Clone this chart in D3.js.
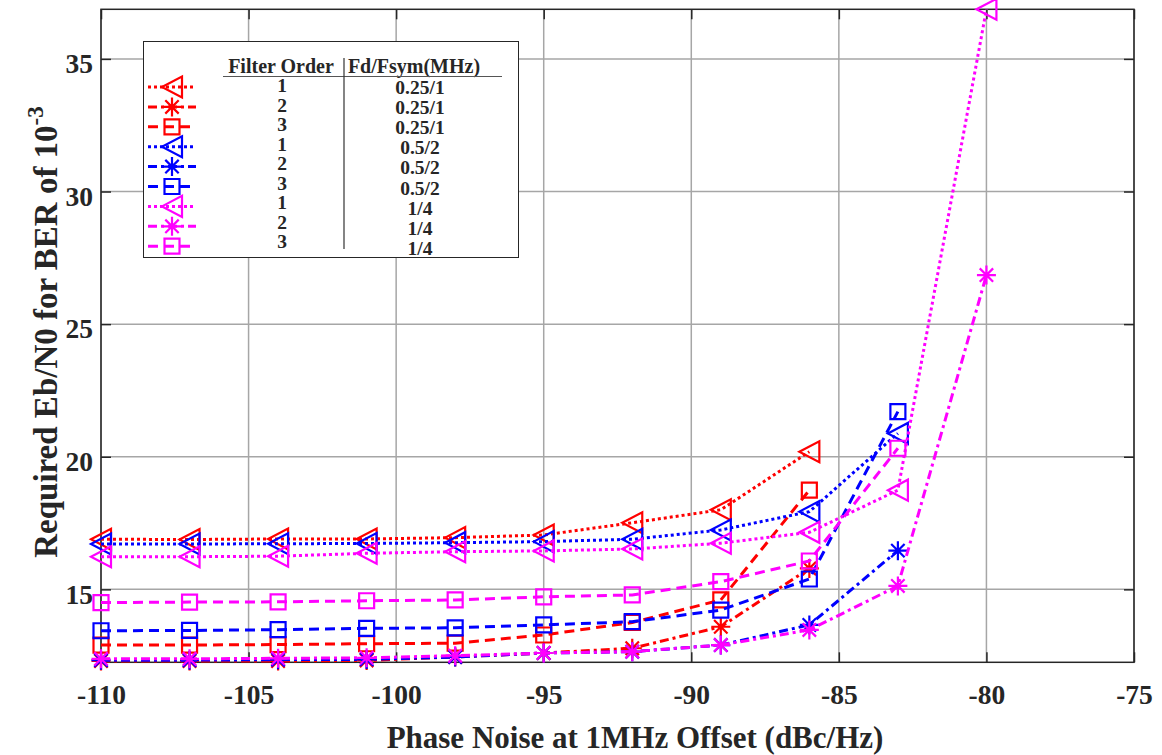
<!DOCTYPE html>
<html>
<head>
<meta charset="utf-8">
<script src="https://cdn.jsdelivr.net/npm/d3@7"></script>
<style>
  body { margin: 0; background: #fff; }
  text { font-family: 'Liberation Serif', 'Times New Roman', serif; font-weight: bold; fill: #262626; }
</style>
</head>
<body>
<script>
var width = 1162;
var height = 755;

var padding = { top: 9.3, right: 28, bottom: 92.7, left: 101 };

// phase noise offsets (dBc/Hz)
var phaseNoise = [-110, -107, -104, -101, -98, -95, -92, -89, -86, -83, -80];

// required Eb/N0, one array per curve
var red1 = [16.89, 16.88, 16.9, 16.9, 16.95, 17.05, 17.51, 18.0, 20.19];
var red2 = [12.3, 12.3, 12.3, 12.32, 12.45, 12.6, 12.78, 13.59, 15.79];
var red3 = [12.9, 12.9, 12.92, 12.95, 12.97, 13.28, 13.75, 14.6, 18.74];
var blue1 = [16.71, 16.71, 16.72, 16.73, 16.76, 16.8, 16.89, 17.24, 17.93, 20.88];
var blue2 = [12.33, 12.33, 12.35, 12.36, 12.45, 12.6, 12.65, 12.9, 13.66, 16.46];
var blue3 = [13.44, 13.45, 13.48, 13.53, 13.55, 13.66, 13.78, 14.22, 15.39, 21.7];
var mag1 = [16.23, 16.23, 16.25, 16.36, 16.42, 16.45, 16.52, 16.74, 17.15, 18.74, 36.87];
var mag2 = [12.38, 12.38, 12.4, 12.42, 12.5, 12.6, 12.65, 12.9, 13.47, 15.13, 26.85];
var mag3 = [14.5, 14.52, 14.53, 14.57, 14.6, 14.72, 14.79, 15.29, 16.07, 20.32];

var xTicks = [-110, -105, -100, -95, -90, -85, -80, -75];
var yTicks = [15, 20, 25, 30, 35];

var filterOrders = ['1', '2', '3', '1', '2', '3', '1', '2', '3'];
var fdFsym = ['0.25/1', '0.25/1', '0.25/1', '0.5/2', '0.5/2', '0.5/2', '1/4', '1/4', '1/4'];

var dashes = { 1: '3,3', 2: '9,4,3,4', 3: '10,6' };
var markers = { 1: 'tri', 2: 'star', 3: 'square' };

var series = [
    { values: red1, color: '#ff0000', order: 1 },
    { values: red2, color: '#ff0000', order: 2 },
    { values: red3, color: '#ff0000', order: 3 },
    { values: blue1, color: '#0000ff', order: 1 },
    { values: blue2, color: '#0000ff', order: 2 },
    { values: blue3, color: '#0000ff', order: 3 },
    { values: mag1, color: '#ff00ff', order: 1 },
    { values: mag2, color: '#ff00ff', order: 2 },
    { values: mag3, color: '#ff00ff', order: 3 }
];

var xScale = d3.scaleLinear()
    .domain([-110, -75])
    .range([padding.left, width - padding.right]);

var yScale = d3.scaleLinear()
    .domain([12.25, 36.87])
    .range([height - padding.bottom, padding.top]);

var svg = d3.select('body')
    .append('svg')
    .attr('width', width)
    .attr('height', height);

var x0 = padding.left, x1 = width - padding.right;
var y0 = height - padding.bottom, y1 = padding.top;

// grid
var grid = svg.append('g')
    .attr('stroke', '#a6a6a6')
    .attr('stroke-width', 1.5);

grid.selectAll('.gx')
    .data(xTicks)
    .enter()
    .append('line')
    .attr('x1', function(d) { return xScale(d); })
    .attr('x2', function(d) { return xScale(d); })
    .attr('y1', y0)
    .attr('y2', y1);

grid.selectAll('.gy')
    .data(yTicks)
    .enter()
    .append('line')
    .attr('x1', x0)
    .attr('x2', x1)
    .attr('y1', function(d) { return yScale(d); })
    .attr('y2', function(d) { return yScale(d); });

// axes, ticks inside on all four sides
var xAxis = d3.axisBottom(xScale)
    .tickValues(xTicks)
    .tickSize(-10)
    .tickPadding(22)
    .tickFormat(function(d) { return String(d); });

var yAxis = d3.axisLeft(yScale)
    .tickValues(yTicks)
    .tickSize(-10)
    .tickPadding(8);

svg.append('g')
    .attr('class', 'axis')
    .attr('transform', 'translate(0,' + y0 + ')')
    .call(xAxis);

svg.append('g')
    .attr('class', 'axis yleft')
    .attr('transform', 'translate(' + x0 + ',0)')
    .call(yAxis);

svg.append('g')
    .attr('class', 'axis')
    .attr('transform', 'translate(0,' + y1 + ')')
    .call(d3.axisTop(xScale).tickValues(xTicks).tickSize(-10).tickFormat(''));

svg.append('g')
    .attr('class', 'axis')
    .attr('transform', 'translate(' + x1 + ',0)')
    .call(d3.axisRight(yScale).tickValues(yTicks).tickSize(-10).tickFormat(''));

svg.selectAll('.axis path').remove();
svg.selectAll('.axis line').attr('stroke', '#262626').attr('stroke-width', 1.5);
svg.selectAll('.axis text')
    .attr('font-family', "'Liberation Serif', serif")
    .attr('font-weight', 'bold')
    .attr('font-size', 27.5)
    .attr('fill', '#262626');
svg.selectAll('.yleft text').attr('dy', '0.5em');

svg.append('rect')
    .attr('x', x0)
    .attr('y', y1)
    .attr('width', x1 - x0)
    .attr('height', y0 - y1)
    .attr('fill', 'none')
    .attr('stroke', '#262626')
    .attr('stroke-width', 1.5);

// marker shapes
function markerPath(type, cx, cy) {
    if (type === 'tri') {
        return 'M' + (cx - 10) + ',' + cy + 'L' + (cx + 10) + ',' + (cy - 10.5) + 'L' + (cx + 10) + ',' + (cy + 10.5) + 'Z';
    }
    if (type === 'square') {
        return 'M' + (cx - 7.5) + ',' + (cy - 7.5) + 'h15v15h-15Z';
    }
    var r = 9.5, d = 6.7;
    return 'M' + (cx - r) + ',' + cy + 'h' + (2 * r) +
        'M' + cx + ',' + (cy - r) + 'v' + (2 * r) +
        'M' + (cx - d) + ',' + (cy - d) + 'l' + (2 * d) + ',' + (2 * d) +
        'M' + (cx - d) + ',' + (cy + d) + 'l' + (2 * d) + ',' + (-2 * d);
}

var linePath = d3.line()
    .x(function(d, i) { return xScale(phaseNoise[i]); })
    .y(function(d) { return yScale(d); });

series.forEach(function(s) {
    var g = svg.append('g');
    g.append('path')
        .attr('d', linePath(s.values))
        .attr('fill', 'none')
        .attr('stroke', s.color)
        .attr('stroke-width', 3)
        .attr('stroke-dasharray', dashes[s.order]);
    g.selectAll('.m')
        .data(s.values)
        .enter()
        .append('path')
        .attr('d', function(d, i) { return markerPath(markers[s.order], xScale(phaseNoise[i]), yScale(d)); })
        .attr('fill', 'none')
        .attr('stroke', s.color)
        .attr('stroke-width', 2.2);
});

// axis titles
svg.append('text')
    .attr('x', 635)
    .attr('y', 748)
    .attr('text-anchor', 'middle')
    .attr('font-size', 31)
    .text('Phase Noise at 1MHz Offset (dBc/Hz)');

var yl = svg.append('text')
    .attr('transform', 'translate(57,332) rotate(-90)')
    .attr('text-anchor', 'middle')
    .attr('font-size', 33);
yl.append('tspan').text('Required Eb/N0 for BER of 10');
yl.append('tspan').attr('dy', -14).attr('font-size', 23).text('-3');

// legend
var lg = svg.append('g');
lg.append('rect')
    .attr('x', 143.5)
    .attr('y', 41.5)
    .attr('width', 375)
    .attr('height', 216)
    .attr('fill', '#fff')
    .attr('stroke', '#262626')
    .attr('stroke-width', 1);

lg.append('text').attr('x', 281).attr('y', 73).attr('text-anchor', 'middle').attr('font-size', 20).attr('fill', '#000').text('Filter Order');
lg.append('text').attr('x', 414).attr('y', 73).attr('text-anchor', 'middle').attr('font-size', 20).attr('fill', '#000').text('Fd/Fsym(MHz)');
lg.append('line').attr('x1', 223).attr('x2', 502).attr('y1', 76.5).attr('y2', 76.5).attr('stroke', '#555').attr('stroke-width', 1.2);
lg.append('line').attr('x1', 344).attr('x2', 344).attr('y1', 58).attr('y2', 249).attr('stroke', '#333').attr('stroke-width', 1.2);

lg.selectAll('.ord')
    .data(filterOrders)
    .enter()
    .append('text')
    .attr('x', 282)
    .attr('y', function(d, i) { return 92 + i * 19.5; })
    .attr('text-anchor', 'middle')
    .attr('font-size', 19.5)
    .attr('fill', '#000')
    .text(function(d) { return d; });

lg.selectAll('.fd')
    .data(fdFsym)
    .enter()
    .append('text')
    .attr('x', 420)
    .attr('y', function(d, i) { return 93.5 + i * 20.2; })
    .attr('text-anchor', 'middle')
    .attr('font-size', 19.5)
    .attr('fill', '#000')
    .text(function(d) { return d; });

series.forEach(function(s, i) {
    var cy = 87 + i * 19.9;
    lg.append('line')
        .attr('x1', 148)
        .attr('x2', 196)
        .attr('y1', cy)
        .attr('y2', cy)
        .attr('stroke', s.color)
        .attr('stroke-width', 3)
        .attr('stroke-dasharray', dashes[s.order]);
    lg.append('path')
        .attr('d', markerPath(markers[s.order], 172, cy))
        .attr('fill', 'none')
        .attr('stroke', s.color)
        .attr('stroke-width', 2.2);
});
</script>
</body>
</html>
